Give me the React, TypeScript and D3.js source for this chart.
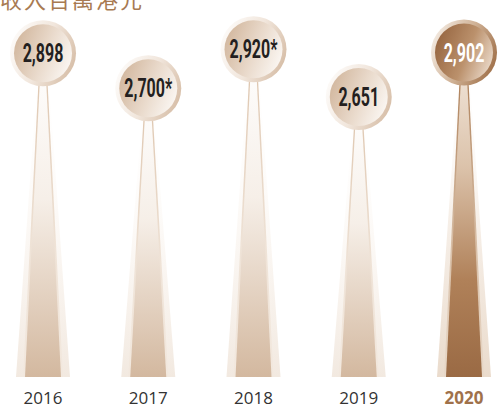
import React from 'react';
import * as d3 from 'd3';

const years = ['2016', '2017', '2018', '2019', '2020'];
const values = [2898, 2700, 2920, 2651, 2902];
const valueLabels = ['2,898', '2,700*', '2,920*', '2,651', '2,902'];
const highlightYear = '2020';
const title = '收入百萬港元';

const W = 498;
const H = 406;

export default function App() {
  const x = d3.scalePoint<string>().domain(years).range([43, 464]);
  const y = d3.scaleLinear().domain([2600, 2950]).range([106, 44]);
  const base = 377;
  const R = 33;
  const r = 29;

  const trap = (cx: number, top: number, wTop: number, wBot: number) => {
    const line = d3.line();
    return (
      line([
        [cx - wTop / 2, top],
        [cx + wTop / 2, top],
        [cx + wBot / 2, base],
        [cx - wBot / 2, base],
      ]) + 'Z'
    );
  };

  return (
    <svg
      width={W}
      height={H}
      style={{ position: 'absolute', left: 0, top: 0, background: '#fff' }}
    >
      <defs>
        {/* normal */}
        <linearGradient id="stickN" x1="0" y1="0" x2="0" y2="1">
          <stop offset="0" stopColor="#ffffff" />
          <stop offset="0.45" stopColor="#f6efe8" />
          <stop offset="1" stopColor="#d3b89f" />
        </linearGradient>
        <linearGradient id="edgeN" x1="0" y1="0" x2="0" y2="1">
          <stop offset="0" stopColor="#dcc3ab" />
          <stop offset="0.6" stopColor="#efe3d7" />
          <stop offset="1" stopColor="#f2e8de" />
        </linearGradient>
        <linearGradient id="glowN" x1="0" y1="0" x2="0" y2="1">
          <stop offset="0" stopColor="#ffffff" stopOpacity="0" />
          <stop offset="0.5" stopColor="#faf5f0" stopOpacity="0.6" />
          <stop offset="1" stopColor="#f2e9e0" />
        </linearGradient>
        <linearGradient id="diskN" x1="0" y1="0.3" x2="1" y2="0.7">
          <stop offset="0" stopColor="#d2b79e" />
          <stop offset="0.55" stopColor="#eadbcd" />
          <stop offset="1" stopColor="#fbf7f3" />
        </linearGradient>
        <linearGradient id="ringN" x1="0" y1="0.3" x2="1" y2="0.7">
          <stop offset="0" stopColor="#fdfbf9" />
          <stop offset="0.5" stopColor="#f1e6dc" />
          <stop offset="1" stopColor="#d6bda6" />
        </linearGradient>
        {/* highlight */}
        <linearGradient id="stickH" x1="0" y1="0" x2="0" y2="1">
          <stop offset="0" stopColor="#f3e9df" />
          <stop offset="0.35" stopColor="#dcc3ab" />
          <stop offset="0.7" stopColor="#b08159" />
          <stop offset="1" stopColor="#9a6a44" />
        </linearGradient>
        <linearGradient id="edgeH" x1="0" y1="0" x2="0" y2="1">
          <stop offset="0" stopColor="#a8784f" />
          <stop offset="0.6" stopColor="#d8bfa7" />
          <stop offset="1" stopColor="#e8d8c8" />
        </linearGradient>
        <linearGradient id="glowH" x1="0" y1="0" x2="0" y2="1">
          <stop offset="0" stopColor="#ffffff" stopOpacity="0" />
          <stop offset="0.5" stopColor="#f3e9df" stopOpacity="0.7" />
          <stop offset="1" stopColor="#eadbcc" />
        </linearGradient>
        <linearGradient id="diskH" x1="0" y1="0.3" x2="1" y2="0.7">
          <stop offset="0" stopColor="#976641" />
          <stop offset="0.55" stopColor="#bb916c" />
          <stop offset="1" stopColor="#ead9c9" />
        </linearGradient>
        <linearGradient id="ringH" x1="0" y1="0.3" x2="1" y2="0.7">
          <stop offset="0" stopColor="#f4ebe2" />
          <stop offset="0.5" stopColor="#cfb195" />
          <stop offset="1" stopColor="#9f6f48" />
        </linearGradient>
      </defs>

      <text
        x={0}
        y={8}
        fontFamily="'Noto Sans CJK TC', 'Noto Sans CJK SC', sans-serif"
        fontSize={22}
        letterSpacing={2}
        fill="#a87a52"
      >
        {title}
      </text>

      {years.map((yr, i) => {
        const cx = x(yr) as number;
        const cy = y(values[i]);
        const h = yr === highlightYear;
        const k = h ? 'H' : 'N';
        return (
          <g key={yr}>
            <path d={trap(cx, cy, 8, 54)} fill={`url(#glow${k})`} />
            <path d={trap(cx, cy, 6, 40)} fill={`url(#edge${k})`} />
            <path d={trap(cx, cy, 3.5, 36)} fill={`url(#stick${k})`} />
            <circle cx={cx} cy={cy} r={R} fill={`url(#ring${k})`} />
            <circle cx={cx} cy={cy} r={r} fill={`url(#disk${k})`} />
            <text
              transform={`translate(${cx},${cy}) scale(0.64,1)`}
              textAnchor="middle"
              dy="0.36em"
              fontFamily="Roboto, 'Liberation Sans', sans-serif"
              fontWeight={700}
              fontSize={25}
              fill={h ? '#ffffff' : '#231f20'}
            >
              {valueLabels[i]}
            </text>
            <text
              x={cx}
              y={404}
              textAnchor="middle"
              fontFamily="'Open Sans', 'Noto Sans', sans-serif"
              fontSize={17}
              fontWeight={h ? 700 : 400}
              fill={h ? '#a0714a' : '#333333'}
            >
              {yr}
            </text>
          </g>
        );
      })}
    </svg>
  );
}
